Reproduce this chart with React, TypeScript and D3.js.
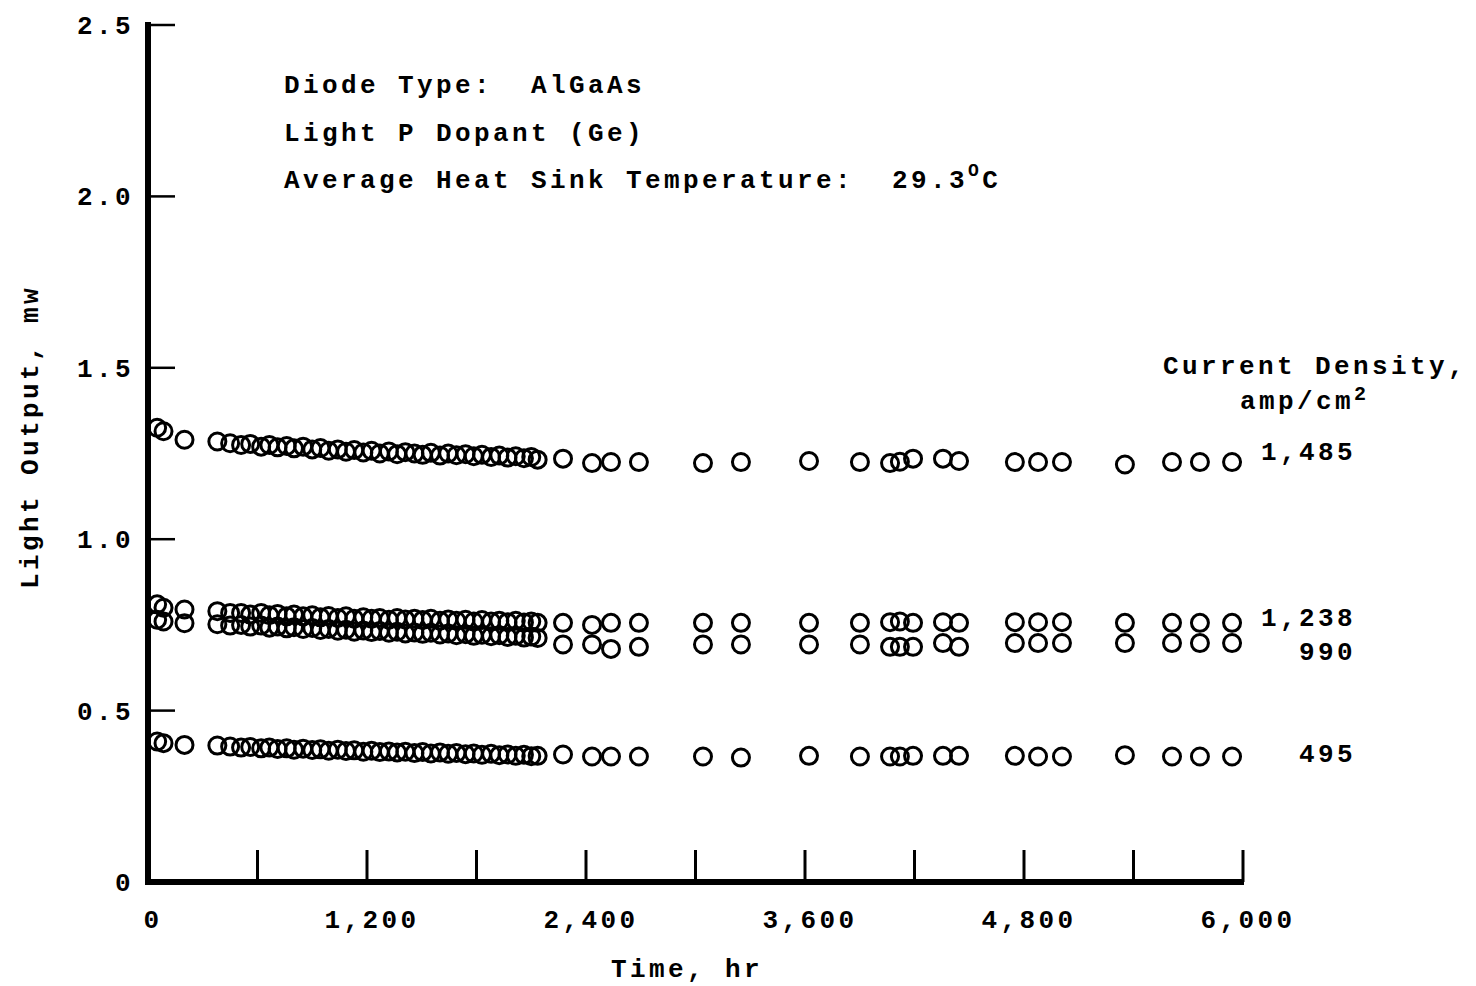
import React from "react";
import * as d3 from "d3";

const times = [
  50, 85, 200, 380, 450, 510, 560, 620, 665, 710, 760, 800, 850, 900, 945, 990, 1040, 1085, 1130, 1180,
  1225, 1270, 1320, 1365, 1410, 1460, 1505, 1550, 1600, 1645, 1690, 1740, 1785, 1830, 1880, 1925, 1970,
  2015, 2060, 2100, 2135,
  2274, 2433, 2537, 2690, 3041, 3249, 3622, 3901, 4066, 4120, 4192, 4356, 4444, 4750, 4877, 5008, 5353,
  5611, 5764, 5940,
];

const s1485 = [
  1.325, 1.315, 1.29, 1.285, 1.28, 1.275, 1.278, 1.27, 1.275, 1.268, 1.272, 1.265, 1.27, 1.262, 1.266,
  1.258, 1.262, 1.255, 1.26, 1.253, 1.258, 1.25, 1.256, 1.248, 1.254, 1.25, 1.246, 1.252, 1.244, 1.25,
  1.245, 1.248, 1.242, 1.246, 1.24, 1.244, 1.238, 1.242, 1.236, 1.24, 1.232,
  1.235, 1.222, 1.225, 1.225, 1.222, 1.225, 1.228, 1.225, 1.222, 1.226, 1.235, 1.235, 1.228, 1.225,
  1.225, 1.225, 1.218, 1.225, 1.225, 1.225,
];

const s1238 = [
  0.81, 0.8, 0.795, 0.79, 0.785, 0.785, 0.78, 0.785, 0.778, 0.782, 0.775, 0.78, 0.775, 0.778, 0.772,
  0.776, 0.77, 0.775, 0.768, 0.772, 0.768, 0.77, 0.765, 0.77, 0.766, 0.768, 0.764, 0.768, 0.762, 0.766,
  0.762, 0.765, 0.76, 0.764, 0.76, 0.762, 0.758, 0.762, 0.757, 0.76, 0.756,
  0.756, 0.75, 0.756, 0.756, 0.756, 0.756, 0.756, 0.756, 0.758, 0.76, 0.756, 0.758, 0.756, 0.758,
  0.758, 0.758, 0.756, 0.756, 0.756, 0.756,
];

const s990 = [
  0.765, 0.76, 0.755, 0.752, 0.748, 0.75, 0.745, 0.748, 0.742, 0.745, 0.74, 0.743, 0.738, 0.741, 0.735,
  0.738, 0.733, 0.736, 0.73, 0.734, 0.729, 0.732, 0.727, 0.73, 0.725, 0.728, 0.724, 0.727, 0.722, 0.725,
  0.72, 0.723, 0.718, 0.721, 0.717, 0.72, 0.715, 0.718, 0.713, 0.716, 0.712,
  0.693, 0.693, 0.68, 0.686, 0.693, 0.693, 0.693, 0.693, 0.686, 0.686, 0.686, 0.697, 0.686, 0.697,
  0.697, 0.697, 0.697, 0.697, 0.697, 0.697,
];

const s495 = [
  0.41, 0.405, 0.4, 0.398, 0.395, 0.392, 0.394, 0.39, 0.392, 0.388, 0.39, 0.386, 0.389, 0.385, 0.387,
  0.383, 0.386, 0.382, 0.384, 0.38, 0.383, 0.379, 0.381, 0.378, 0.38, 0.376, 0.379, 0.375, 0.378, 0.374,
  0.376, 0.373, 0.375, 0.371, 0.374, 0.37, 0.372, 0.368, 0.371, 0.367, 0.368,
  0.372, 0.366, 0.366, 0.366, 0.366, 0.363, 0.368, 0.366, 0.366, 0.366, 0.368, 0.368, 0.368, 0.368,
  0.366, 0.366, 0.37, 0.366, 0.366, 0.366,
];

const seriesList = [s1485, s1238, s990, s495];
const seriesLabels = ["1,485", "1,238", "990", "495"];

const xTickMinor = [600, 1200, 1800, 2400, 3000, 3600, 4200, 4800, 5400, 6000];
const xTickLabels = [0, 1200, 2400, 3600, 4800, 6000];
const yTicks = [0.5, 1.0, 1.5, 2.0, 2.5];
const yTickLabels = [0, 0.5, 1.0, 1.5, 2.0, 2.5];

const FONT = "'Liberation Mono', 'DejaVu Sans Mono', monospace";

export default function App() {
  const W = 1476;
  const H = 986;
  const x = d3.scaleLinear().domain([0, 6000]).range([148, 1243]);
  const y = d3.scaleLinear().domain([0, 2.5]).range([882, 25]);
  const fmtX = d3.format(",");
  const fmtY = (v: number) => (v === 0 ? "0" : d3.format(".1f")(v));
  const txt = { fontFamily: FONT, fontSize: 26, letterSpacing: 3.4, fill: "#000", fontWeight: 700 as const };

  return (
    <div style={{ position: "absolute", left: 0, top: 0 }}>
      <svg width={W} height={H} style={{ display: "block", background: "#fff" }}>
        <rect x={0} y={0} width={W} height={H} fill="#fff" />
        {/* axes */}
        <line x1={x(0)} x2={x(0)} y1={y(2.5) - 3} y2={y(0) + 3} stroke="#000" strokeWidth={6} />
        <line x1={x(0) - 3} x2={x(6000) + 1} y1={y(0)} y2={y(0)} stroke="#000" strokeWidth={6} />
        {yTicks.map((t) => (
          <line key={"yt" + t} x1={x(0)} x2={x(0) + 27} y1={y(t)} y2={y(t)} stroke="#000" strokeWidth={2.5} />
        ))}
        {xTickMinor.map((t) => (
          <line key={"xt" + t} x1={x(t)} x2={x(t)} y1={y(0)} y2={y(0) - 32} stroke="#000" strokeWidth={3} />
        ))}
        {yTickLabels.map((t) => (
          <text key={"yl" + t} x={134} y={y(t) + 9} textAnchor="end" {...txt}>
            {fmtY(t)}
          </text>
        ))}
        {xTickLabels.map((t) => (
          <text key={"xl" + t} x={x(t) + 5} y={928} textAnchor="middle" {...txt}>
            {fmtX(t)}
          </text>
        ))}
        <text x={687} y={977} textAnchor="middle" {...txt}>
          Time, hr
        </text>
        <text transform="translate(38,437) rotate(-90)" textAnchor="middle" {...txt}>
          Light Output, mw
        </text>
        {/* annotations */}
        <text x={284} y={93} {...txt} style={{ whiteSpace: "pre" }}>
          {"Diode Type:  AlGaAs"}
        </text>
        <text x={284} y={141} {...txt}>
          Light P Dopant (Ge)
        </text>
        <text x={284} y={188} {...txt} style={{ whiteSpace: "pre" }}>
          {"Average Heat Sink Temperature:  29.3"}
          <tspan dy={-12} fontSize={18}>O</tspan>
          <tspan dy={12}>C</tspan>
        </text>
        <text x={1163} y={374} {...txt}>
          Current Density,
        </text>
        <text x={1240} y={409} {...txt}>
          amp/cm
          <tspan dy={-9} fontSize={20}>2</tspan>
        </text>
        {seriesLabels.map((lab, i) => (
          <text
            key={"sl" + i}
            x={1356}
            y={[460, 626, 660, 762][i]}
            textAnchor="end"
            {...txt}
          >
            {lab}
          </text>
        ))}
        {/* data */}
        {seriesList.map((s, si) => (
          <g key={"s" + si}>
            {s.map((v, i) => (
              <circle
                key={i}
                cx={x(times[i])}
                cy={y(v)}
                r={8.5}
                fill="none"
                stroke="#000"
                strokeWidth={3}
              />
            ))}
          </g>
        ))}
      </svg>
    </div>
  );
}
